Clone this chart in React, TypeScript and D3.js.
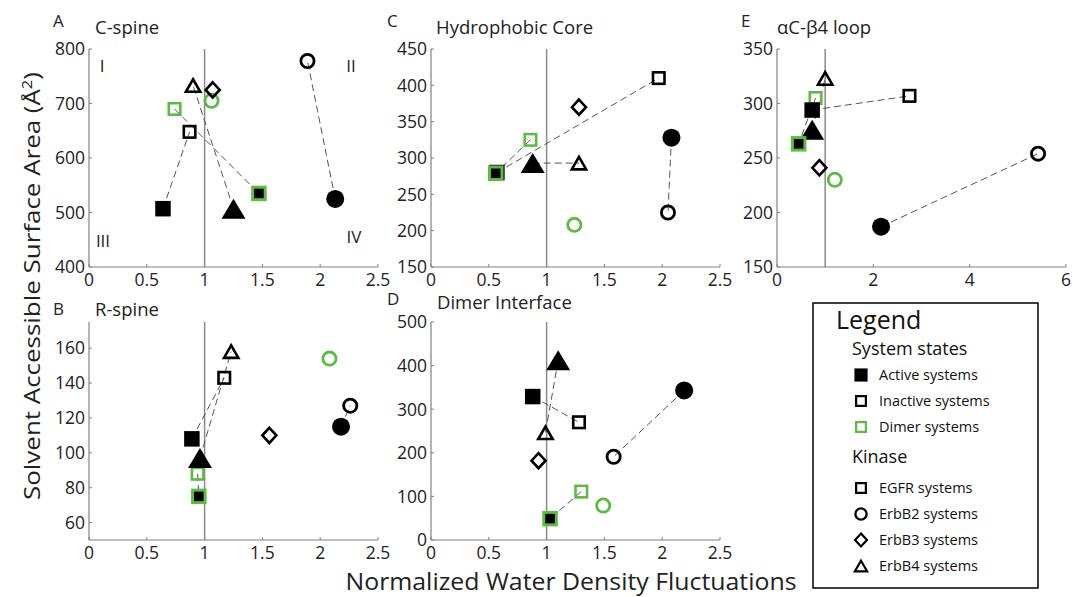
import React from "react";
import * as d3 from "d3";

// ---- data ----
const systems = [
  "EGFR active", "EGFR inactive", "EGFR dimer", "EGFR dimer (activator)",
  "ErbB2 active", "ErbB2 inactive", "ErbB2 dimer", "ErbB3 inactive",
  "ErbB4 active", "ErbB4 inactive",
];
const markerKinds = [
  "sqFilled", "sqOpen", "sqGreen", "sqGreenFilled",
  "circFilled", "circOpen", "circGreen", "diamond",
  "triFilled", "triOpen",
];
const pairs: [number, number][] = [[0, 1], [2, 3], [4, 5], [8, 9]];
const drawOrder = [6, 2, 1, 5, 7, 9, 0, 4, 8, 3];

const cSpineX = [0.64, 0.87, 0.74, 1.47, 2.13, 1.89, 1.06, 1.07, 1.25, 0.90];
const cSpineY = [507, 648, 690, 535, 525, 778, 705, 725, 507, 733];

const coreX = [0.57, 1.97, 0.86, 0.56, 2.08, 2.05, 1.24, 1.28, 0.88, 1.28];
const coreY = [280, 410, 325, 279, 328, 225, 208, 370, 293, 293];

const loopX = [0.73, 2.75, 0.80, 0.45, 2.16, 5.42, 1.20, 0.88, 0.73, 1.00];
const loopY = [294, 307, 305, 263, 187, 254, 230, 241, 276, 323];

const rSpineX = [0.89, 1.17, 0.94, 0.95, 2.18, 2.26, 2.08, 1.56, 0.96, 1.23];
const rSpineY = [108, 143, 88, 75, 115, 127, 154, 110, 97, 158];

const dimerX = [0.88, 1.28, 1.30, 1.03, 2.19, 1.58, 1.49, 0.93, 1.10, 0.99];
const dimerY = [329, 270, 111, 49, 343, 191, 79, 182, 412, 246];

const xTicks25 = [0, 0.5, 1, 1.5, 2, 2.5];
const xTicks6 = [0, 2, 4, 6];
const cSpineTicks = [400, 500, 600, 700, 800];
const coreTicks = [150, 200, 250, 300, 350, 400, 450];
const loopTicks = [150, 200, 250, 300, 350];
const rSpineTicks = [60, 80, 100, 120, 140, 160];
const dimerTicks = [0, 100, 200, 300, 400, 500];

const legendStates = ["Active systems", "Inactive systems", "Dimer systems"];
const legendStateMarkers = ["sqFilled", "sqOpen", "sqGreen"];
const legendKinases = ["EGFR systems", "ErbB2 systems", "ErbB3 systems", "ErbB4 systems"];
const legendKinaseMarkers = ["sqOpen", "circOpen", "diamond", "triOpen"];

const GREEN = "#5fb947";
const FONT = "'Open Sans', 'Noto Sans', sans-serif";

function Marker({ kind, x, y, scale = 1 }: { kind: string; x: number; y: number; scale?: number }) {
  const s = scale;
  switch (kind) {
    case "sqFilled": {
      const a = 15.5 * s;
      return <rect x={x - a / 2} y={y - a / 2} width={a} height={a} fill="#000" />;
    }
    case "sqOpen": {
      const a = 11.5 * s;
      return <rect x={x - a / 2} y={y - a / 2} width={a} height={a} fill="none" stroke="#000" strokeWidth={2.6 * s} />;
    }
    case "sqGreen": {
      const a = 11.5 * s;
      return <rect x={x - a / 2} y={y - a / 2} width={a} height={a} fill="none" stroke={GREEN} strokeWidth={2.6 * s} />;
    }
    case "sqGreenFilled": {
      const a = 12.5 * s;
      return <rect x={x - a / 2} y={y - a / 2} width={a} height={a} fill="#000" stroke={GREEN} strokeWidth={3 * s} />;
    }
    case "circFilled":
      return <circle cx={x} cy={y} r={9 * s} fill="#000" />;
    case "circOpen":
      return <circle cx={x} cy={y} r={6.6 * s} fill="none" stroke="#000" strokeWidth={2.8 * s} />;
    case "circGreen":
      return <circle cx={x} cy={y} r={6.6 * s} fill="none" stroke={GREEN} strokeWidth={2.8 * s} />;
    case "diamond": {
      const w = 7 * s, h = 7.6 * s;
      return <path d={`M${x},${y - h}L${x + w},${y}L${x},${y + h}L${x - w},${y}Z`} fill="none" stroke="#000" strokeWidth={2.6 * s} strokeLinejoin="miter" />;
    }
    case "triFilled": {
      const w = 12 * s, h = 20 * s;
      return <path d={`M${x},${y - h / 2}L${x + w},${y + h / 2}L${x - w},${y + h / 2}Z`} fill="#000" />;
    }
    case "triOpen": {
      const w = 7.2 * s, h = 12.5 * s;
      return <path d={`M${x},${y - h / 2}L${x + w},${y + h / 2}L${x - w},${y + h / 2}Z`} fill="none" stroke="#000" strokeWidth={2.6 * s} strokeLinejoin="miter" />;
    }
  }
  return null;
}

type PanelProps = {
  left: number; right: number; top: number; bottom: number;
  xDomain: [number, number]; yDomain: [number, number];
  xTicks: number[]; yTicks: number[];
  xs: number[]; ys: number[];
  letter: string; title: string;
  letterX: number; letterY: number; titleX: number; titleY: number;
};

function Panel(p: PanelProps) {
  const x = d3.scaleLinear().domain(p.xDomain).range([p.left, p.right]);
  const y = d3.scaleLinear().domain(p.yDomain).range([p.bottom, p.top]);
  const axisColor = "#808080";
  const tickFmt = (v: number) => String(v);
  return (
    <g>
      <line x1={p.left} x2={p.left} y1={p.top} y2={p.bottom} stroke={axisColor} strokeWidth={1.2} />
      <line x1={p.left} x2={p.right} y1={p.bottom} y2={p.bottom} stroke={axisColor} strokeWidth={1.2} />
      {p.xTicks.map((t) => (
        <g key={"xt" + t}>
          <line x1={x(t)} x2={x(t)} y1={p.bottom} y2={p.bottom - 3} stroke={axisColor} strokeWidth={1} />
          <text x={x(t)} y={p.bottom + 19} textAnchor="middle" fontSize={17.5} fontFamily={FONT} fill="#222">{tickFmt(t)}</text>
        </g>
      ))}
      {p.yTicks.map((t) => (
        <g key={"yt" + t}>
          <line x1={p.left} x2={p.left + 3} y1={y(t)} y2={y(t)} stroke={axisColor} strokeWidth={1} />
          <text x={p.left - 4} y={y(t)} dy="0.36em" textAnchor="end" fontSize={17.5} fontFamily={FONT} fill="#222">{tickFmt(t)}</text>
        </g>
      ))}
      <line x1={x(1)} x2={x(1)} y1={p.top} y2={p.bottom} stroke="#8a8a8a" strokeWidth={1.5} />
      {pairs.map(([a, b], i) => (
        <line key={"c" + i} x1={x(p.xs[a])} y1={y(p.ys[a])} x2={x(p.xs[b])} y2={y(p.ys[b])}
          stroke="#555" strokeWidth={1} strokeDasharray="7,4" />
      ))}
      {drawOrder.map((i) => (
        <Marker key={"m" + i} kind={markerKinds[i]} x={x(p.xs[i])} y={y(p.ys[i])} />
      ))}
      <text x={p.letterX} y={p.letterY} fontSize={17} fontFamily={FONT} fill="#222">{p.letter}</text>
      <text x={p.titleX} y={p.titleY} fontSize={18.5} fontFamily={FONT} fill="#222">{p.title}</text>
    </g>
  );
}

export default function App() {
  const col1 = [89, 378], col2 = [431, 720], col3 = [777, 1066];
  const row1 = [49, 267], row2 = [322, 540];
  return (
    <svg width={1073} height={597} style={{ display: "block", position: "absolute", left: 0, top: 0, background: "#fff" }}>
      <rect x={0} y={0} width={1073} height={597} fill="#fff" />
      <Panel left={col1[0]} right={col1[1]} top={row1[0]} bottom={row1[1]}
        xDomain={[0, 2.5]} yDomain={[400, 800]} xTicks={xTicks25} yTicks={cSpineTicks}
        xs={cSpineX} ys={cSpineY} letter="A" title="C-spine"
        letterX={53} letterY={27} titleX={95} titleY={34} />
      <Panel left={col2[0]} right={col2[1]} top={row1[0]} bottom={row1[1]}
        xDomain={[0, 2.5]} yDomain={[150, 450]} xTicks={xTicks25} yTicks={coreTicks}
        xs={coreX} ys={coreY} letter="C" title="Hydrophobic Core"
        letterX={387} letterY={27} titleX={436} titleY={34} />
      <Panel left={col3[0]} right={col3[1]} top={row1[0]} bottom={row1[1]}
        xDomain={[0, 6]} yDomain={[150, 350]} xTicks={xTicks6} yTicks={loopTicks}
        xs={loopX} ys={loopY} letter="E" title="αC-β4 loop"
        letterX={741} letterY={27} titleX={777} titleY={34} />
      <Panel left={col1[0]} right={col1[1]} top={row2[0]} bottom={row2[1]}
        xDomain={[0, 2.5]} yDomain={[50, 175]} xTicks={xTicks25} yTicks={rSpineTicks}
        xs={rSpineX} ys={rSpineY} letter="B" title="R-spine"
        letterX={53} letterY={315} titleX={95} titleY={316} />
      <Panel left={col2[0]} right={col2[1]} top={row2[0]} bottom={row2[1]}
        xDomain={[0, 2.5]} yDomain={[0, 500]} xTicks={xTicks25} yTicks={dimerTicks}
        xs={dimerX} ys={dimerY} letter="D" title="Dimer Interface"
        letterX={387} letterY={305} titleX={437} titleY={309} />

      <text x={102} y={72} textAnchor="middle" fontSize={17} fontFamily={FONT} fill="#222">I</text>
      <text x={351} y={72} textAnchor="middle" fontSize={17} fontFamily={FONT} fill="#222">II</text>
      <text x={103} y={247} textAnchor="middle" fontSize={17} fontFamily={FONT} fill="#222">III</text>
      <text x={354} y={243} textAnchor="middle" fontSize={17} fontFamily={FONT} fill="#222">IV</text>

      <text transform="translate(40,286) rotate(-90)" textAnchor="middle" fontSize={22} fontFamily={FONT}
        fill="#222" textLength={428} lengthAdjust="spacingAndGlyphs">
        Solvent Accessible Surface Area (Å<tspan dy={-8} fontSize={14}>2</tspan><tspan dy={8}>)</tspan>
      </text>
      <text x={571} y={590} textAnchor="middle" fontSize={24} fontFamily={FONT} fill="#222"
        textLength={451} lengthAdjust="spacingAndGlyphs">Normalized Water Density Fluctuations</text>

      <rect x={813} y={303} width={225} height={285} fill="none" stroke="#000" strokeWidth={1.5} />
      <text x={836} y={329} fontSize={25} fontFamily={FONT} fill="#111">Legend</text>
      <text x={852} y={355} fontSize={18} fontFamily={FONT} fill="#111">System states</text>
      {legendStates.map((t, i) => (
        <g key={"ls" + i}>
          <Marker kind={legendStateMarkers[i]} x={861} y={375 + i * 26} scale={0.85} />
          <text x={879} y={375 + i * 26} dy="0.36em" fontSize={14.5} fontFamily={FONT} fill="#111">{t}</text>
        </g>
      ))}
      <text x={852} y={463} fontSize={18} fontFamily={FONT} fill="#111">Kinase</text>
      {legendKinases.map((t, i) => (
        <g key={"lk" + i}>
          <Marker kind={legendKinaseMarkers[i]} x={861} y={488 + i * 26} scale={0.85} />
          <text x={879} y={488 + i * 26} dy="0.36em" fontSize={14.5} fontFamily={FONT} fill="#111">{t}</text>
        </g>
      ))}
    </svg>
  );
}
